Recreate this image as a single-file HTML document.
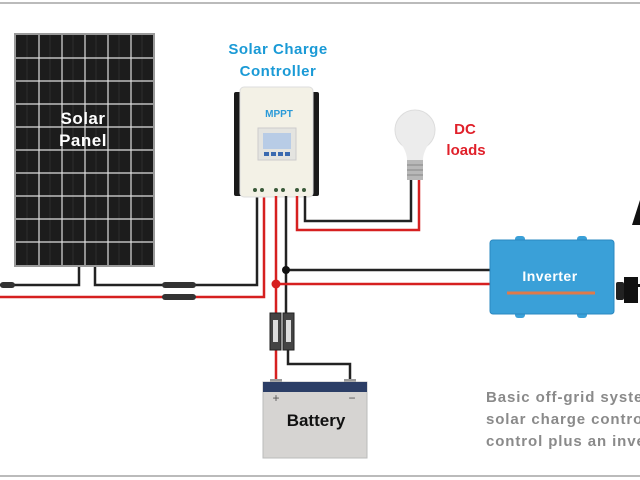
<!DOCTYPE html>
<html><head><style>body{margin:0;background:#fff;overflow:hidden}svg{display:block}</style></head><body>
<svg width="640" height="480" viewBox="0 0 640 480" xmlns="http://www.w3.org/2000/svg" font-family="Liberation Sans, sans-serif" font-weight="bold">
<rect x="0" y="0" width="640" height="480" fill="#fff"/>
<line x1="0" y1="3" x2="640" y2="3" stroke="#bbb" stroke-width="2"/>
<line x1="0" y1="476" x2="640" y2="476" stroke="#bbb" stroke-width="2"/>
<!-- solar panel -->
<rect x="14" y="33" width="141" height="234" fill="#9a9a9a"/>
<rect x="16" y="35" width="137" height="230" fill="#1c1c1c"/>
<g stroke="#2e2e2e" stroke-width="1">
<line x1="27" y1="35" x2="27" y2="265"/><line x1="50" y1="35" x2="50" y2="265"/><line x1="73" y1="35" x2="73" y2="265"/><line x1="96" y1="35" x2="96" y2="265"/><line x1="119" y1="35" x2="119" y2="265"/><line x1="142" y1="35" x2="142" y2="265"/>
</g>
<g stroke="#ddd" stroke-width="1.2">
<line x1="39" y1="35" x2="39" y2="265"/><line x1="62" y1="35" x2="62" y2="265"/><line x1="85" y1="35" x2="85" y2="265"/><line x1="108" y1="35" x2="108" y2="265"/><line x1="131" y1="35" x2="131" y2="265"/>
<line x1="16" y1="58" x2="153" y2="58"/><line x1="16" y1="81" x2="153" y2="81"/><line x1="16" y1="104" x2="153" y2="104"/><line x1="16" y1="127" x2="153" y2="127"/><line x1="16" y1="150" x2="153" y2="150"/><line x1="16" y1="173" x2="153" y2="173"/><line x1="16" y1="196" x2="153" y2="196"/><line x1="16" y1="219" x2="153" y2="219"/><line x1="16" y1="242" x2="153" y2="242"/>
</g>
<text x="83" y="124" fill="#fff" font-size="17" text-anchor="middle" letter-spacing="0.5">Solar</text>
<text x="83" y="146" fill="#fff" font-size="17" text-anchor="middle" letter-spacing="0.5">Panel</text>
<!-- panel wires -->
<g fill="none" stroke-width="2.5">
<polyline points="79,267 79,285 0,285" stroke="#222"/>
<polyline points="95,267 95,285 257,285 257,195" stroke="#222"/>
<polyline points="0,297 264,297 264,195" stroke="#d62020"/>
</g>
<rect x="0" y="282" width="15" height="6" rx="3" fill="#333"/>
<rect x="162" y="282" width="34" height="6" rx="3" fill="#333"/>
<rect x="162" y="294" width="34" height="6" rx="3" fill="#333"/>
<!-- controller title -->
<text x="278" y="54" fill="#1a9ad6" font-size="15" text-anchor="middle" letter-spacing="0.5">Solar Charge</text>
<text x="278" y="76" fill="#1a9ad6" font-size="15" text-anchor="middle" letter-spacing="0.5">Controller</text>
<!-- controller -->
<rect x="234" y="92" width="8" height="104" rx="2" fill="#1a1a1a"/>
<rect x="311" y="92" width="8" height="104" rx="2" fill="#1a1a1a"/>
<rect x="240" y="87" width="73" height="110" rx="4" fill="#f3f1e6" stroke="#ddd"/>
<text x="279" y="117" fill="#2a9ad8" font-size="10" text-anchor="middle">MPPT</text>
<rect x="258" y="128" width="38" height="32" fill="#e4e4e0" stroke="#ccc"/>
<rect x="263" y="133" width="28" height="16" fill="#b8cce6"/>
<rect x="264" y="152" width="5" height="4" fill="#3a6ab0"/><rect x="271" y="152" width="5" height="4" fill="#3a6ab0"/><rect x="278" y="152" width="5" height="4" fill="#3a6ab0"/><rect x="285" y="152" width="5" height="4" fill="#3a6ab0"/>
<g fill="#3a5a3a"><circle cx="255" cy="190" r="2"/><circle cx="262" cy="190" r="2"/><circle cx="276" cy="190" r="2"/><circle cx="283" cy="190" r="2"/><circle cx="297" cy="190" r="2"/><circle cx="304" cy="190" r="2"/></g>
<!-- load wires -->
<g fill="none" stroke-width="2.5">
<polyline points="305,196 305,221 411,221 411,180" stroke="#222"/>
<polyline points="297,196 297,230 419,230 419,180" stroke="#d62020"/>
<polyline points="276,196 276,382" stroke="#d62020"/>
<polyline points="286,196 286,313" stroke="#222"/>
<polyline points="288,350 288,364 350,364 350,383" stroke="#222"/>
<line x1="286" y1="270" x2="492" y2="270" stroke="#222"/>
<line x1="276" y1="284" x2="492" y2="284" stroke="#d62020"/>
</g>
<circle cx="286" cy="270" r="4" fill="#111"/>
<circle cx="276" cy="284" r="4.5" fill="#d62020"/>
<!-- fuses -->
<rect x="270" y="313" width="11" height="37" fill="#444" stroke="#222"/><rect x="273" y="320" width="5" height="22" fill="#ddd"/>
<rect x="283" y="313" width="11" height="37" fill="#444" stroke="#222"/><rect x="286" y="320" width="5" height="22" fill="#ddd"/>
<!-- battery -->
<rect x="270" y="379" width="12" height="5" fill="#999"/><rect x="344" y="379" width="12" height="5" fill="#999"/>
<rect x="263" y="382" width="104" height="76" fill="#d6d4d2" stroke="#bbb"/>
<rect x="263" y="382" width="104" height="10" fill="#2c3e66"/>
<text x="276" y="402" fill="#555" font-size="12" font-weight="normal" text-anchor="middle">+</text>
<text x="352" y="402" fill="#555" font-size="12" font-weight="normal" text-anchor="middle">−</text>
<text x="316" y="426" fill="#111" font-size="17" text-anchor="middle">Battery</text>
<!-- bulb -->
<circle cx="415" cy="130" r="20" fill="#ececec" stroke="#ddd"/>
<path d="M400,142 Q407,152 407,160 L423,160 Q423,152 430,142 Z" fill="#ececec"/>
<rect x="407" y="160" width="16" height="20" fill="#b8b8b8"/>
<g stroke="#888"><line x1="407" y1="165" x2="423" y2="165"/><line x1="407" y1="170" x2="423" y2="170"/><line x1="407" y1="175" x2="423" y2="175"/></g>
<text x="465" y="134" fill="#e0202a" font-size="15" text-anchor="middle">DC</text>
<text x="466" y="155" fill="#e0202a" font-size="15" text-anchor="middle">loads</text>
<!-- inverter -->
<rect x="515" y="236" width="10" height="8" rx="3" fill="#3aa0d8"/><rect x="577" y="236" width="10" height="8" rx="3" fill="#3aa0d8"/>
<rect x="515" y="310" width="10" height="8" rx="3" fill="#3aa0d8"/><rect x="577" y="310" width="10" height="8" rx="3" fill="#3aa0d8"/>
<rect x="490" y="240" width="124" height="74" rx="3" fill="#3aa0d8" stroke="#2b88c0"/>
<text x="550" y="281" fill="#fff" font-size="14" text-anchor="middle" letter-spacing="0.5">Inverter</text>
<line x1="507" y1="293" x2="595" y2="293" stroke="#e07a4a" stroke-width="3"/>
<!-- plug -->
<rect x="616" y="282" width="8" height="18" rx="2" fill="#222"/>
<rect x="624" y="277" width="14" height="26" fill="#111"/>
<rect x="634" y="284" width="6" height="3" fill="#111"/>
<path d="M632,225 L640,200 L640,225 Z" fill="#111"/>
<!-- caption -->
<text x="486" y="402" fill="#8a8a8a" font-size="15" letter-spacing="0.9">Basic off-grid system with</text>
<text x="486" y="424" fill="#8a8a8a" font-size="15" letter-spacing="0.9">solar charge controller</text>
<text x="486" y="446" fill="#8a8a8a" font-size="15" letter-spacing="0.9">control plus an inverter</text>
</svg>
</body></html>
